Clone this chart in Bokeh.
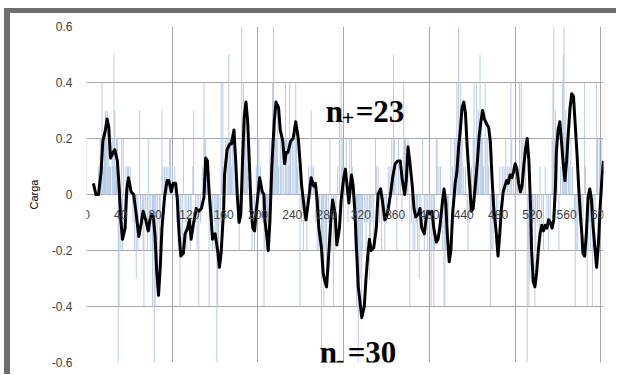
from bokeh.plotting import figure
from bokeh.models import FixedTicker, Label, ColumnDataSource
from bokeh.embed import file_html
from bokeh.resources import INLINE

# ---- data ----
bar_pos = [0, 14, 16, 17, 18, 19, 20, 21, 22, 23, 24, 25, 26, 27, 28, 30, 31, 32, 33, 34, 35, 36, 37, 38, 39, 40,
           41, 42, 43, 44, 46, 48, 49, 51, 54, 56, 57, 58, 60, 62, 63, 65, 66, 67, 69, 71, 72, 73, 75, 77, 78, 79,
           80, 81, 83, 85, 86, 88, 89, 91, 93, 95, 97, 98, 100, 103, 105, 107, 109, 110, 112, 113, 115, 117, 119,
           121, 122, 124, 125, 127, 129, 131, 133, 135, 137, 138, 139, 140, 141, 143, 145, 147, 149, 150, 152, 153,
           154, 156, 157, 158, 159, 161, 162, 164, 165, 166, 167, 168, 169, 170, 172, 174, 176, 178, 179, 181, 182,
           183, 184, 185, 186, 187, 188, 190, 192, 193, 194, 196, 198, 200, 201, 203, 205, 207, 208, 210, 211, 212,
           214, 216, 217, 218, 219, 220, 221, 222, 223, 224, 226, 227, 228, 230, 232, 233, 235, 236, 237, 238, 240,
           242, 244, 245, 246, 248, 249, 251, 253, 255, 257, 259, 262, 263, 265, 267, 269, 271, 272, 274, 275, 276,
           277, 279, 280, 282, 284, 286, 288, 290, 291, 293, 295, 297, 298, 299, 301, 303, 305, 307, 309, 310, 312,
           313, 315, 316, 317, 318, 319, 320, 321, 322, 324, 326, 328, 330, 331, 333, 335, 337, 338, 340, 342, 344,
           346, 348, 350, 352, 354, 356, 358, 359, 361, 362, 364, 366, 368, 370, 371, 372, 374, 375, 377, 379, 381,
           383, 385, 386, 388, 390, 392, 394, 396, 398, 400, 402, 403, 405, 406, 408, 409, 411, 413, 415, 417, 418,
           419, 421, 422, 425, 427, 429, 430, 432, 433, 434, 435, 436, 437, 438, 440, 442, 444, 445, 447, 449, 451,
           452, 453, 455, 456, 457, 459, 460, 461, 462, 463, 465, 466, 468, 469, 471, 472, 474, 476, 478, 480, 482,
           485, 487, 489, 491, 493, 495, 496, 498, 500, 502, 503, 505, 507, 508, 510, 512, 514, 515, 516, 517, 518,
           520, 521, 523, 524, 526, 528, 529, 531, 533, 535, 537, 539, 541, 543, 544, 545, 546, 547, 549, 551, 553,
           555, 556, 557, 558, 559, 560, 562, 563, 565, 567, 569, 570, 571, 573, 575, 577, 579, 581, 582, 584, 585,
           587, 588, 590, 591, 593, 595, 596, 598, 599, 601, 602]
bar_val = [0.2, 0.1, 0.2, 0.2, 0.4, 0.2, 0.1, 0.2, 0.3, 0.2, 0.3, 0.1, 0.2, 0.1, 0.1, 0.2, 0.1, 0.5, 0.3, 0.1, 0.2,
           0.2, -0.6, -0.4, -0.1, -0.2, 0.2, -0.2, 0.2, -0.1, 0.1, 0.1, 0.1, 0.1, -0.1, -0.2, -0.1, -0.3, -0.2, 0.3,
           -0.1, -0.1, -0.2, -0.4, -0.1, -0.2, 0.2, -0.1, -0.2, -0.4, -0.2, -0.6, -0.4, -0.2, -0.3, -0.2, -0.1, 0.3,
           0.1, 0.1, 0.1, 0.1, 0.2, 0.2, 0.1, 0.1, -0.1, -0.2, -0.4, -0.2, -0.2, 0.2, -0.1, -0.2, -0.1, -0.2, -0.1,
           0.1, 0.3, -0.1, -0.2, -0.4, -0.1, 0.1, 0.4, 0.2, 0.2, 0.1, 0.1, -0.4, -0.1, -0.2, -0.1, -0.2, -0.6, -0.4,
           -0.2, -0.1, 0.4, 0.1, 0.4, 0.1, 0.2, 0.2, 0.1, 0.5, 0.2, 0.2, 0.1, 0.2, 0.2, 0.1, -0.1, -0.2, -0.1, 0.6,
           0.2, 0.4, 0.2, 0.3, 0.2, 0.1, 0.2, 0.1, -0.1, -0.2, -0.1, -0.2, 0.1, 0.1, 0.2, 0.1, -0.1, -0.4, -0.2, -0.2,
           -0.1, -0.2, 0.2, 0.2, 0.4, 0.6, 0.2, 0.3, 0.2, 0.2, 0.3, 0.1, 0.2, 0.1, 0.2, 0.1, 0.4, 0.2, 0.2, 0.1, 0.4,
           0.2, 0.2, 0.2, 0.4, 0.2, 0.1, 0.1, -0.4, -0.1, -0.2, -0.1, -0.2, 0.1, 0.3, 0.1, 0.1, -0.1, -0.2, -0.2,
           -0.1, -0.6, -0.2, -0.3, -0.4, -0.2, -0.3, -0.1, 0.2, -0.2, -0.4, -0.2, -0.1, 0.1, 0.3, 0.4, 0.1, 0.2, 0.1,
           0.2, -0.1, 0.2, 0.2, 0.1, -0.1, -0.2, -0.4, -0.2, -0.6, -0.4, -0.3, -0.2, -0.4, -0.2, -0.1, -0.2, -0.1,
           -0.3, -0.2, -0.1, -0.2, 0.2, 0.1, 0.1, -0.1, -0.2, -0.1, -0.2, -0.1, 0.1, 0.1, 0.2, 0.5, 0.2, 0.1, -0.2,
           0.2, 0.1, -0.1, 0.4, 0.2, 0.2, 0.1, 0.2, -0.4, -0.1, -0.2, -0.2, -0.1, -0.2, -0.3, -0.1, 0.2, -0.2, -0.1,
           -0.2, -0.1, -0.4, -0.2, -0.4, -0.2, 0.2, 0.2, 0.1, 0.1, -0.2, -0.4, -0.4, -0.2, -0.2, -0.1, 0.2, 0.1, 0.2,
           0.2, 0.4, 0.2, 0.6, 0.2, 0.4, 0.3, 0.2, 0.1, 0.1, -0.1, -0.2, -0.1, 0.1, 0.2, 0.4, 0.2, 0.4, 0.2, 0.3, 0.5,
           0.2, 0.3, 0.2, 0.1, 0.4, 0.2, 0.2, 0.1, -0.4, -0.2, -0.2, -0.1, -0.2, -0.1, 0.1, 0.1, 0.1, 0.2, 0.1, 0.1,
           0.4, 0.2, 0.1, -0.2, 0.1, 0.1, 0.4, 0.4, 0.2, 0.2, 0.1, -0.6, -0.2, -0.4, -0.3, -0.2, -0.2, -0.1, -0.4,
           -0.2, -0.1, -0.2, 0.1, -0.1, -0.2, 0.1, -0.1, -0.2, -0.1, 0.2, 0.4, 0.6, 0.2, 0.3, 0.2, -0.2, 0.1, 0.4,
           0.5, 0.6, 0.2, 0.3, 0.2, 0.2, 0.1, 0.2, 0.1, -0.1, -0.4, -0.2, -0.2, -0.1, -0.2, -0.1, 0.4, 0.1, -0.4,
           -0.2, -0.1, -0.2, -0.4, -0.2, -0.1, 0.4, 0.2, 0.2, 0.1, 0.2, 0.1]

line_x = [8, 11, 14, 17, 19, 22, 24, 26, 28, 31, 33, 36, 38, 40, 42, 45, 47, 49, 52, 55, 58, 61, 64, 66, 69, 72,
          74, 76, 78, 80, 82, 84, 86, 88, 91, 94, 96, 99, 101, 104, 106, 108, 110, 113, 115, 118, 120, 122, 125,
          128, 131, 134, 137, 139, 141, 143, 145, 147, 150, 153, 155, 157, 160, 161, 164, 167, 169, 172, 174, 176,
          178, 180, 182, 184, 186, 188, 190, 192, 194, 196, 198, 200, 202, 205, 207, 208, 210, 212, 214, 216, 219,
          221, 224, 226, 229, 231, 233, 235, 238, 241, 244, 247, 249, 251, 254, 256, 259, 262, 265, 267, 269, 271,
          274, 276, 278, 280, 282, 285, 287, 290, 292, 295, 297, 300, 302, 304, 306, 309, 311, 313, 315, 317, 320,
          321, 324, 326, 328, 330, 332, 335, 338, 340, 343, 345, 348, 350, 352, 355, 357, 360, 363, 366, 368, 371,
          373, 375, 377, 380, 382, 384, 387, 389, 391, 394, 396, 398, 401, 403, 405, 408, 410, 412, 415, 417, 419,
          421, 423, 425, 427, 430, 432, 434, 436, 438, 440, 442, 444, 447, 449, 451, 454, 456, 458, 460, 462, 464,
          467, 469, 471, 473, 475, 478, 480, 482, 484, 486, 488, 490, 492, 494, 496, 498, 500, 502, 504, 506, 508,
          510, 512, 514, 516, 518, 519, 521, 523, 525, 527, 529, 531, 533, 535, 537, 539, 541, 543, 545, 547, 548,
          550, 552, 554, 556, 558, 560, 562, 564, 566, 568, 570, 572, 574, 576, 578, 579, 581, 583, 585, 587, 589,
          591, 593, 595, 597, 599, 601, 603]
line_y = [0.04, 0.0, 0.0, 0.08, 0.19, 0.23, 0.27, 0.24, 0.13, 0.15, 0.16, 0.12, 0.03, -0.09, -0.16, -0.12, 0.02,
          0.06, 0.01, 0.0, -0.07, -0.15, -0.1, -0.06, -0.09, -0.13, -0.09, -0.07, -0.08, -0.15, -0.28, -0.36, -0.26,
          -0.12, -0.01, 0.05, 0.05, 0.01, 0.04, 0.04, -0.02, -0.14, -0.22, -0.21, -0.14, -0.12, -0.09, -0.16, -0.1,
          -0.05, -0.06, -0.05, -0.01, 0.13, 0.12, 0.01, -0.07, -0.16, -0.14, -0.2, -0.26, -0.21, -0.05, 0.07, 0.16,
          0.18, 0.18, 0.23, 0.12, -0.01, -0.1, -0.07, 0.12, 0.28, 0.33, 0.26, 0.11, -0.05, -0.12, -0.13, -0.06, 0.0,
          0.06, 0.01, 0.0, -0.09, -0.14, -0.2, -0.09, 0.09, 0.26, 0.33, 0.31, 0.23, 0.19, 0.11, 0.15, 0.15, 0.19,
          0.2, 0.26, 0.2, 0.12, 0.03, -0.05, -0.09, -0.02, 0.06, 0.03, 0.04, -0.02, -0.12, -0.19, -0.28, -0.31,
          -0.33, -0.24, -0.09, -0.02, -0.07, -0.18, -0.12, -0.02, 0.06, 0.09, 0.03, -0.03, 0.07, 0.03, -0.06, -0.2,
          -0.33, -0.41, -0.44, -0.4, -0.3, -0.22, -0.16, -0.2, -0.19, -0.12, 0.0, 0.02, -0.02, -0.09, -0.08, -0.05,
          0.01, 0.06, 0.11, 0.12, 0.12, 0.06, 0.0, 0.05, 0.17, 0.12, 0.03, -0.05, -0.08, -0.07, -0.05, -0.12, -0.14,
          -0.09, -0.06, -0.07, -0.06, -0.12, -0.17, -0.16, -0.12, -0.03, 0.02, -0.03, -0.15, -0.24, -0.2, -0.07,
          0.04, 0.08, 0.17, 0.23, 0.31, 0.33, 0.29, 0.17, 0.03, -0.06, -0.05, 0.05, 0.12, 0.21, 0.26, 0.3, 0.27,
          0.25, 0.24, 0.19, 0.06, -0.05, -0.14, -0.22, -0.14, -0.05, 0.01, 0.03, 0.05, 0.04, 0.07, 0.06, 0.08, 0.11,
          0.09, 0.04, 0.01, 0.03, 0.1, 0.16, 0.2, 0.12, -0.05, -0.19, -0.31, -0.33, -0.28, -0.2, -0.14, -0.11,
          -0.13, -0.11, -0.12, -0.09, -0.1, -0.12, -0.09, 0.03, 0.15, 0.23, 0.26, 0.19, 0.11, 0.05, 0.12, 0.22,
          0.31, 0.36, 0.35, 0.25, 0.15, 0.03, -0.07, -0.15, -0.21, -0.22, -0.14, -0.01, 0.02, -0.02, -0.12, -0.19,
          -0.26, -0.18, -0.05, 0.05, 0.12, 0.13, 0.07]

x_ticks = list(range(0, 601, 40))
x_grid = list(range(0, 601, 100))
y_ticks = [-0.6, -0.4, -0.2, 0, 0.2, 0.4, 0.6]
y_labels = ["-0.6", "-0.4", "-0.2", "0", "0.2", "0.4", "0.6"]

W, H = 612, 366
p = figure(width=W, height=H, output_backend="svg", toolbar_location=None,
           x_range=(0, 603), y_range=(-0.6, 0.6),
           min_border_left=82, min_border_right=13, min_border_top=18, min_border_bottom=12)
p.styles = {"margin-left": "4px", "margin-top": "8px", "background-color": "white",
            "box-shadow": "inset 6px 5px 0 0 #6e6e6e"}
p.outline_line_color = None
p.background_fill_color = "white"
p.border_fill_color = None

# grid
p.xgrid.ticker = FixedTicker(ticks=x_grid)
p.ygrid.ticker = FixedTicker(ticks=y_ticks)
p.xgrid.grid_line_color = "#a6a6a6"
p.ygrid.grid_line_color = "#a6a6a6"

# axes
p.xaxis.fixed_location = 0
p.xaxis.ticker = FixedTicker(ticks=x_ticks)
p.xaxis.axis_line_color = None
p.xaxis.major_tick_line_color = None
p.xaxis.minor_tick_line_color = None
p.xaxis.major_label_standoff = 9
p.xaxis.major_label_text_font = "Liberation Sans"
p.xaxis.major_label_text_font_size = "12px"
p.xaxis.major_label_text_color = "#404040"

p.yaxis.ticker = FixedTicker(ticks=y_ticks)
p.yaxis.major_label_overrides = {t: l for t, l in zip(y_ticks, y_labels)}
p.yaxis.axis_line_color = None
p.yaxis.major_tick_line_color = None
p.yaxis.minor_tick_line_color = None
p.yaxis.major_label_standoff = 8
p.yaxis.major_label_text_font = "Liberation Sans"
p.yaxis.major_label_text_font_size = "12px"
p.yaxis.major_label_text_color = "#404040"
p.yaxis.axis_label = "Carga"
p.yaxis.axis_label_text_font = "Liberation Sans"
p.yaxis.axis_label_text_font_size = "11px"
p.yaxis.axis_label_text_font_style = "normal"
p.yaxis.axis_label_text_color = "#000000"
p.yaxis.axis_label_standoff = 9

bars = ColumnDataSource(dict(x=bar_pos, top=bar_val))
p.vbar(x="x", top="top", bottom=0, width=1.1, source=bars,
       fill_color="#b4c9e4", line_color=None)

p.line(line_x, line_y, line_color="black", line_width=3, line_join="round")

# annotations
font = "Liberation Serif"
def add_label(x, y, xo, yo, text, size):
    p.add_layout(Label(x=x, y=y, x_offset=xo, y_offset=yo, text=text,
                       text_font=font, text_font_style="bold",
                       text_font_size=size, text_color="black",
                       text_baseline="alphabetic"))

add_label(279, 0.296, 0, 0, "n", "31px")
add_label(279, 0.296, 16, -6, "+", "22px")
add_label(279, 0.296, 30, 0, "=23", "31px")

add_label(272, -0.563, 0, 0, "n", "31px")
add_label(272, -0.563, 16, -7, "-", "26px")
add_label(272, -0.563, 28, 0, "=30", "31px")

open("out.html", "w").write(file_html(p, INLINE))
